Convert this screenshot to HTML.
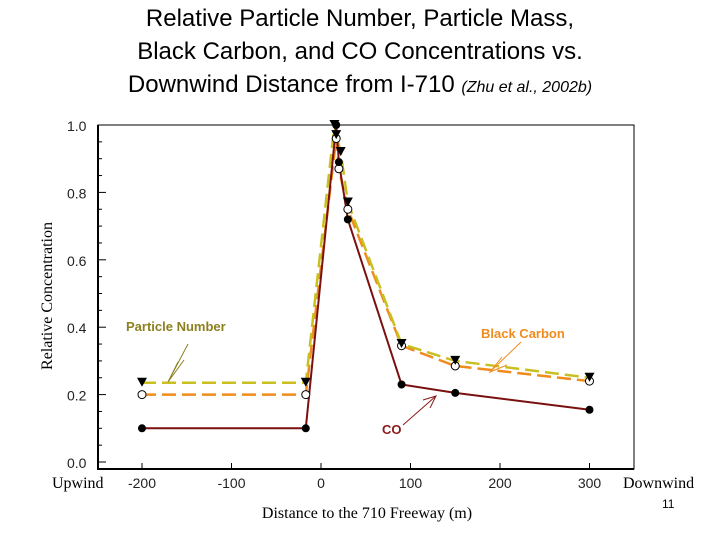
<!DOCTYPE html>
<html><head><meta charset="utf-8"><style>
body{margin:0;width:720px;height:540px;background:#fff;overflow:hidden}
#title{position:absolute;left:0;top:2px;width:720px;text-align:center;font:24px/33px "Liberation Sans",sans-serif;color:#000}
svg{position:absolute;left:0;top:0}
</style></head><body>
<div id="title">Relative Particle Number, Particle Mass,<br>Black Carbon, and CO Concentrations vs.<br>Downwind Distance from I-710 <span style="font-size:16px;font-style:italic">(Zhu et al., 2002b)</span></div>
<svg id="c" width="720" height="540"></svg>
<script>
const xTicks=[-200,-100,0,100,200,300];
const yTicks=[0.0,0.2,0.4,0.6,0.8,1.0];
const coX=[-200,-17,17,20,30,90,150,300];
const coY=[0.10,0.10,1.0,0.89,0.72,0.23,0.205,0.155];
const pnX=[-200,-17,15,17,22,30,90,150,300];
const pnY=[0.235,0.235,1.0,0.97,0.92,0.77,0.35,0.30,0.25];
const bcX=[-200,-17,17,20,30,90,150,300];
const bcY=[0.20,0.20,0.96,0.87,0.75,0.345,0.285,0.24];
const X=v=>321+v*0.895, Y=v=>462-v*337;
const s=document.getElementById('c'),NS='http://www.w3.org/2000/svg';
function el(t,a,txt){const e=document.createElementNS(NS,t);for(const k in a)e.setAttribute(k,a[k]);if(txt!=null)e.textContent=txt;s.appendChild(e);return e;}
let e;
e=el('path',{d:'M98,125 H634 V469 H98 Z',fill:'none',stroke:'#000','stroke-width':1});


e=el('path',{d:'M98,125 V469 H634',fill:'none',stroke:'#000','stroke-width':2});


for(let v=0;v<=1.0001;v+=0.05){e=el('line',{x1:98,x2:v%0.2<0.01||v%0.2>0.19?106:102,y1:Y(v),y2:Y(v),stroke:'#000'});

}
yTicks.forEach(v=>{e=el('text',{x:67,y:Y(v)+6,'font-family':'Liberation Sans','font-size':14,fill:'#222'},v.toFixed(1));

});
xTicks.forEach(v=>{e=el('text',{x:X(v),y:488,'text-anchor':'middle','font-family':'Liberation Sans','font-size':14,fill:'#222'},v);


e=el('line',{x1:X(v),x2:X(v),y1:469,y2:463,stroke:'#000'});

});
e=el('text',{x:52,y:488,'font-family':'Liberation Serif','font-size':16},'Upwind');

e=el('text',{x:623,y:488,'font-family':'Liberation Serif','font-size':16},'Downwind');

e=el('text',{x:367,y:518,'text-anchor':'middle','font-family':'Liberation Serif','font-size':16},'Distance to the 710 Freeway (m)');

e=el('text',{x:0,y:0,transform:'translate(52,296) rotate(-90)','text-anchor':'middle','font-family':'Liberation Serif','font-size':16},'Relative Concentration');

e=el('text',{x:662,y:508,'font-family':'Liberation Sans','font-size':12},'11');

function pts(xs,ys){return xs.map((x,i)=>X(x)+','+Y(ys[i])).join(' ');}
e=el('polyline',{points:pts(bcX,bcY),fill:'none',stroke:'#f08c1e','stroke-width':2.5,'stroke-dasharray':'14,6'});

e=el('polyline',{points:pts(pnX,pnY),fill:'none',stroke:'#c8c020','stroke-width':2.5,'stroke-dasharray':'14,6'});

e=el('polyline',{points:pts(coX,coY),fill:'none',stroke:'#7a1010','stroke-width':2});

bcX.forEach((x,i)=>{e=el('circle',{cx:X(x),cy:Y(bcY[i]),r:4,fill:'#fff',stroke:'#000'});
});
pnX.forEach((x,i)=>{const cx=X(x),cy=Y(pnY[i]);e=el('path',{d:`M${cx-5},${cy-5} H${cx+5} L${cx},${cy+4} Z`,fill:'#000'});
});
coX.forEach((x,i)=>{e=el('circle',{cx:X(x),cy:Y(coY[i]),r:4,fill:'#000'});
});
e=el('text',{x:126,y:331,'font-family':'Liberation Sans','font-size':13,'font-weight':'bold',fill:'#8c8020'},'Particle Number');

e=el('path',{d:'M188,344 L168,382 M184,360 L168,382 L178,362',fill:'none',stroke:'#8c8020'});

e=el('text',{x:481,y:338,'font-family':'Liberation Sans','font-size':13,'font-weight':'bold',fill:'#f08c1e'},'Black Carbon');

e=el('path',{d:'M521,342 L490,372 M502,357 L490,372 L507,365',fill:'none',stroke:'#f08c1e'});

e=el('text',{x:382,y:434,'font-family':'Liberation Sans','font-size':13,'font-weight':'bold',fill:'#8b1a1a'},'CO');

e=el('path',{d:'M403,425 L436,396 M423,400 L436,396 L430,408',fill:'none',stroke:'#8b1a1a'});

</script>
</body></html>
